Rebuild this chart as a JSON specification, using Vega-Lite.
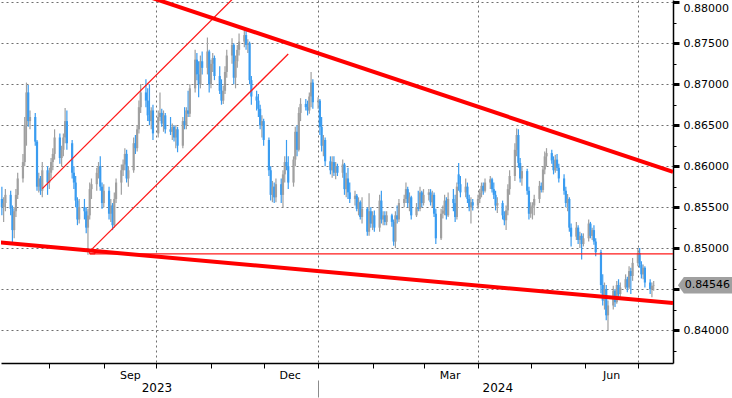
{
"$schema": "https://vega.github.io/schema/vega-lite/v6.json",
"width": 672, "height": 363, "padding": 0, "autosize": {"type": "pad"},
"background": "white",
"config": {"view": {"stroke": null}, "font": "DejaVu Sans"},
"datasets": {
"px": [
{"d":"2023-07-05","o":0.8560,"h":0.8575,"l":0.8540,"c":0.8550},
{"d":"2023-07-06","o":0.8550,"h":0.8562,"l":0.8532,"c":0.8555},
{"d":"2023-07-07","o":0.8555,"h":0.8572,"l":0.8545,"c":0.8565},
{"d":"2023-07-10","o":0.8565,"h":0.8570,"l":0.8540,"c":0.8548},
{"d":"2023-07-11","o":0.8548,"h":0.8552,"l":0.8507,"c":0.8522},
{"d":"2023-07-12","o":0.8522,"h":0.8550,"l":0.8512,"c":0.8545},
{"d":"2023-07-13","o":0.8545,"h":0.8572,"l":0.8538,"c":0.8565},
{"d":"2023-07-14","o":0.8565,"h":0.8592,"l":0.8560,"c":0.8585},
{"d":"2023-07-17","o":0.8585,"h":0.8615,"l":0.8580,"c":0.8605},
{"d":"2023-07-18","o":0.8605,"h":0.8660,"l":0.8600,"c":0.8650},
{"d":"2023-07-19","o":0.8650,"h":0.8702,"l":0.8625,"c":0.8690},
{"d":"2023-07-20","o":0.8690,"h":0.8699,"l":0.8648,"c":0.8655},
{"d":"2023-07-21","o":0.8655,"h":0.8668,"l":0.8645,"c":0.8660},
{"d":"2023-07-24","o":0.8660,"h":0.8665,"l":0.8625,"c":0.8630},
{"d":"2023-07-25","o":0.8630,"h":0.8632,"l":0.8570,"c":0.8575},
{"d":"2023-07-26","o":0.8575,"h":0.8592,"l":0.8568,"c":0.8585},
{"d":"2023-07-27","o":0.8585,"h":0.8588,"l":0.8565,"c":0.8570},
{"d":"2023-07-28","o":0.8570,"h":0.8605,"l":0.8562,"c":0.8595},
{"d":"2023-07-31","o":0.8595,"h":0.8600,"l":0.8565,"c":0.8580},
{"d":"2023-08-01","o":0.8580,"h":0.8598,"l":0.8572,"c":0.8592},
{"d":"2023-08-02","o":0.8592,"h":0.8610,"l":0.8585,"c":0.8605},
{"d":"2023-08-03","o":0.8605,"h":0.8622,"l":0.8595,"c":0.8615},
{"d":"2023-08-04","o":0.8615,"h":0.8645,"l":0.8608,"c":0.8635},
{"d":"2023-08-07","o":0.8635,"h":0.8640,"l":0.8603,"c":0.8610},
{"d":"2023-08-08","o":0.8610,"h":0.8625,"l":0.8600,"c":0.8620},
{"d":"2023-08-09","o":0.8620,"h":0.8640,"l":0.8612,"c":0.8635},
{"d":"2023-08-10","o":0.8635,"h":0.8671,"l":0.8628,"c":0.8655},
{"d":"2023-08-11","o":0.8655,"h":0.8668,"l":0.8620,"c":0.8628},
{"d":"2023-08-14","o":0.8628,"h":0.8632,"l":0.8585,"c":0.8592},
{"d":"2023-08-15","o":0.8592,"h":0.8600,"l":0.8572,"c":0.8580},
{"d":"2023-08-16","o":0.8580,"h":0.8588,"l":0.8550,"c":0.8558},
{"d":"2023-08-17","o":0.8558,"h":0.8562,"l":0.8528,"c":0.8535},
{"d":"2023-08-18","o":0.8535,"h":0.8560,"l":0.8530,"c":0.8550},
{"d":"2023-08-21","o":0.8550,"h":0.8560,"l":0.8535,"c":0.8545},
{"d":"2023-08-22","o":0.8545,"h":0.8550,"l":0.8518,"c":0.8525},
{"d":"2023-08-23","o":0.8525,"h":0.8548,"l":0.8492,"c":0.8540},
{"d":"2023-08-24","o":0.8540,"h":0.8580,"l":0.8535,"c":0.8572},
{"d":"2023-08-25","o":0.8572,"h":0.8585,"l":0.8560,"c":0.8578},
{"d":"2023-08-28","o":0.8578,"h":0.8598,"l":0.8570,"c":0.8592},
{"d":"2023-08-29","o":0.8592,"h":0.8605,"l":0.8585,"c":0.8600},
{"d":"2023-08-30","o":0.8600,"h":0.8612,"l":0.8570,"c":0.8575},
{"d":"2023-08-31","o":0.8575,"h":0.8580,"l":0.8548,"c":0.8555},
{"d":"2023-09-01","o":0.8555,"h":0.8578,"l":0.8550,"c":0.8570},
{"d":"2023-09-04","o":0.8570,"h":0.8575,"l":0.8535,"c":0.8542},
{"d":"2023-09-05","o":0.8542,"h":0.8560,"l":0.8532,"c":0.8552},
{"d":"2023-09-06","o":0.8552,"h":0.8555,"l":0.8522,"c":0.8528},
{"d":"2023-09-07","o":0.8528,"h":0.8568,"l":0.8525,"c":0.8560},
{"d":"2023-09-08","o":0.8560,"h":0.8585,"l":0.8555,"c":0.8580},
{"d":"2023-09-11","o":0.8580,"h":0.8602,"l":0.8565,"c":0.8595},
{"d":"2023-09-12","o":0.8595,"h":0.8608,"l":0.8588,"c":0.8602},
{"d":"2023-09-13","o":0.8602,"h":0.8622,"l":0.8595,"c":0.8615},
{"d":"2023-09-14","o":0.8615,"h":0.8620,"l":0.8580,"c":0.8585},
{"d":"2023-09-15","o":0.8585,"h":0.8600,"l":0.8575,"c":0.8595},
{"d":"2023-09-18","o":0.8595,"h":0.8635,"l":0.8592,"c":0.8628},
{"d":"2023-09-19","o":0.8628,"h":0.8638,"l":0.8615,"c":0.8622},
{"d":"2023-09-20","o":0.8622,"h":0.8650,"l":0.8618,"c":0.8645},
{"d":"2023-09-21","o":0.8645,"h":0.8680,"l":0.8640,"c":0.8672},
{"d":"2023-09-22","o":0.8672,"h":0.8700,"l":0.8665,"c":0.8690},
{"d":"2023-09-25","o":0.8690,"h":0.8706,"l":0.8672,"c":0.8680},
{"d":"2023-09-26","o":0.8680,"h":0.8695,"l":0.8655,"c":0.8662},
{"d":"2023-09-27","o":0.8662,"h":0.8700,"l":0.8650,"c":0.8655},
{"d":"2023-09-28","o":0.8655,"h":0.8672,"l":0.8645,"c":0.8668},
{"d":"2023-09-29","o":0.8668,"h":0.8675,"l":0.8632,"c":0.8640},
{"d":"2023-10-02","o":0.8640,"h":0.8668,"l":0.8635,"c":0.8660},
{"d":"2023-10-03","o":0.8660,"h":0.8690,"l":0.8655,"c":0.8665},
{"d":"2023-10-04","o":0.8665,"h":0.8670,"l":0.8648,"c":0.8652},
{"d":"2023-10-05","o":0.8652,"h":0.8668,"l":0.8642,"c":0.8662},
{"d":"2023-10-06","o":0.8662,"h":0.8665,"l":0.8640,"c":0.8645},
{"d":"2023-10-09","o":0.8645,"h":0.8660,"l":0.8638,"c":0.8642},
{"d":"2023-10-10","o":0.8642,"h":0.8652,"l":0.8632,"c":0.8648},
{"d":"2023-10-11","o":0.8648,"h":0.8650,"l":0.8630,"c":0.8635},
{"d":"2023-10-12","o":0.8635,"h":0.8650,"l":0.8622,"c":0.8645},
{"d":"2023-10-13","o":0.8645,"h":0.8648,"l":0.8617,"c":0.8625},
{"d":"2023-10-16","o":0.8625,"h":0.8660,"l":0.8622,"c":0.8655},
{"d":"2023-10-17","o":0.8655,"h":0.8672,"l":0.8645,"c":0.8650},
{"d":"2023-10-18","o":0.8650,"h":0.8672,"l":0.8645,"c":0.8668},
{"d":"2023-10-19","o":0.8668,"h":0.8692,"l":0.8660,"c":0.8664},
{"d":"2023-10-20","o":0.8664,"h":0.8700,"l":0.8660,"c":0.8695},
{"d":"2023-10-23","o":0.8695,"h":0.8742,"l":0.8690,"c":0.8730},
{"d":"2023-10-24","o":0.8730,"h":0.8738,"l":0.8705,"c":0.8712},
{"d":"2023-10-25","o":0.8712,"h":0.8728,"l":0.8684,"c":0.8700},
{"d":"2023-10-26","o":0.8700,"h":0.8735,"l":0.8695,"c":0.8728},
{"d":"2023-10-27","o":0.8728,"h":0.8740,"l":0.8712,"c":0.8720},
{"d":"2023-10-30","o":0.8720,"h":0.8757,"l":0.8712,"c":0.8740},
{"d":"2023-10-31","o":0.8740,"h":0.8742,"l":0.8690,"c":0.8700},
{"d":"2023-11-01","o":0.8700,"h":0.8730,"l":0.8695,"c":0.8725},
{"d":"2023-11-02","o":0.8725,"h":0.8738,"l":0.8715,"c":0.8732},
{"d":"2023-11-03","o":0.8732,"h":0.8735,"l":0.8705,"c":0.8710},
{"d":"2023-11-06","o":0.8710,"h":0.8722,"l":0.8688,"c":0.8692},
{"d":"2023-11-07","o":0.8692,"h":0.8706,"l":0.8675,"c":0.8680},
{"d":"2023-11-08","o":0.8680,"h":0.8698,"l":0.8676,"c":0.8692},
{"d":"2023-11-09","o":0.8692,"h":0.8722,"l":0.8688,"c":0.8715},
{"d":"2023-11-10","o":0.8715,"h":0.8742,"l":0.8708,"c":0.8735},
{"d":"2023-11-13","o":0.8735,"h":0.8756,"l":0.8725,"c":0.8748},
{"d":"2023-11-14","o":0.8748,"h":0.8750,"l":0.8700,"c":0.8708},
{"d":"2023-11-15","o":0.8708,"h":0.8735,"l":0.8695,"c":0.8728},
{"d":"2023-11-16","o":0.8728,"h":0.8748,"l":0.8720,"c":0.8742},
{"d":"2023-11-17","o":0.8742,"h":0.8762,"l":0.8735,"c":0.8752},
{"d":"2023-11-20","o":0.8752,"h":0.8768,"l":0.8745,"c":0.8760},
{"d":"2023-11-21","o":0.8760,"h":0.8768,"l":0.8742,"c":0.8748},
{"d":"2023-11-22","o":0.8748,"h":0.8755,"l":0.8738,"c":0.8750},
{"d":"2023-11-23","o":0.8750,"h":0.8752,"l":0.8700,"c":0.8705},
{"d":"2023-11-24","o":0.8705,"h":0.8710,"l":0.8675,"c":0.8685},
{"d":"2023-11-27","o":0.8685,"h":0.8692,"l":0.8668,"c":0.8680},
{"d":"2023-11-28","o":0.8680,"h":0.8688,"l":0.8660,"c":0.8670},
{"d":"2023-11-29","o":0.8670,"h":0.8675,"l":0.8645,"c":0.8650},
{"d":"2023-11-30","o":0.8650,"h":0.8662,"l":0.8635,"c":0.8655},
{"d":"2023-12-01","o":0.8655,"h":0.8658,"l":0.8625,"c":0.8632},
{"d":"2023-12-04","o":0.8632,"h":0.8635,"l":0.8588,"c":0.8595},
{"d":"2023-12-05","o":0.8595,"h":0.8600,"l":0.8558,"c":0.8565},
{"d":"2023-12-06","o":0.8565,"h":0.8582,"l":0.8556,"c":0.8575},
{"d":"2023-12-07","o":0.8575,"h":0.8580,"l":0.8555,"c":0.8562},
{"d":"2023-12-08","o":0.8562,"h":0.8585,"l":0.8556,"c":0.8578},
{"d":"2023-12-11","o":0.8578,"h":0.8585,"l":0.8555,"c":0.8565},
{"d":"2023-12-12","o":0.8565,"h":0.8595,"l":0.8550,"c":0.8590},
{"d":"2023-12-13","o":0.8590,"h":0.8612,"l":0.8580,"c":0.8605},
{"d":"2023-12-14","o":0.8605,"h":0.8632,"l":0.8595,"c":0.8600},
{"d":"2023-12-15","o":0.8600,"h":0.8612,"l":0.8572,"c":0.8580},
{"d":"2023-12-18","o":0.8580,"h":0.8612,"l":0.8575,"c":0.8608},
{"d":"2023-12-19","o":0.8608,"h":0.8648,"l":0.8600,"c":0.8642},
{"d":"2023-12-20","o":0.8642,"h":0.8650,"l":0.8612,"c":0.8620},
{"d":"2023-12-21","o":0.8620,"h":0.8672,"l":0.8618,"c":0.8665},
{"d":"2023-12-22","o":0.8665,"h":0.8683,"l":0.8655,"c":0.8676},
{"d":"2023-12-25","o":0.8676,"h":0.8682,"l":0.8668,"c":0.8672},
{"d":"2023-12-26","o":0.8672,"h":0.8680,"l":0.8662,"c":0.8668},
{"d":"2023-12-27","o":0.8668,"h":0.8690,"l":0.8664,"c":0.8685},
{"d":"2023-12-28","o":0.8685,"h":0.8715,"l":0.8672,"c":0.8702},
{"d":"2023-12-29","o":0.8702,"h":0.8706,"l":0.8670,"c":0.8678},
{"d":"2024-01-01","o":0.8678,"h":0.8684,"l":0.8670,"c":0.8680},
{"d":"2024-01-02","o":0.8680,"h":0.8682,"l":0.8638,"c":0.8648},
{"d":"2024-01-03","o":0.8648,"h":0.8660,"l":0.8618,"c":0.8625},
{"d":"2024-01-04","o":0.8625,"h":0.8638,"l":0.8612,"c":0.8632},
{"d":"2024-01-05","o":0.8632,"h":0.8635,"l":0.8600,"c":0.8606},
{"d":"2024-01-08","o":0.8606,"h":0.8612,"l":0.8590,"c":0.8595},
{"d":"2024-01-09","o":0.8595,"h":0.8612,"l":0.8586,"c":0.8605},
{"d":"2024-01-10","o":0.8605,"h":0.8612,"l":0.8588,"c":0.8592},
{"d":"2024-01-11","o":0.8592,"h":0.8605,"l":0.8584,"c":0.8600},
{"d":"2024-01-12","o":0.8600,"h":0.8603,"l":0.8588,"c":0.8592},
{"d":"2024-01-15","o":0.8592,"h":0.8608,"l":0.8586,"c":0.8602},
{"d":"2024-01-16","o":0.8602,"h":0.8604,"l":0.8565,"c":0.8572},
{"d":"2024-01-17","o":0.8572,"h":0.8592,"l":0.8562,"c":0.8585},
{"d":"2024-01-18","o":0.8585,"h":0.8598,"l":0.8560,"c":0.8568},
{"d":"2024-01-19","o":0.8568,"h":0.8580,"l":0.8555,"c":0.8560},
{"d":"2024-01-22","o":0.8560,"h":0.8570,"l":0.8552,"c":0.8564},
{"d":"2024-01-23","o":0.8564,"h":0.8566,"l":0.8545,"c":0.8548},
{"d":"2024-01-24","o":0.8548,"h":0.8562,"l":0.8540,"c":0.8556},
{"d":"2024-01-25","o":0.8556,"h":0.8558,"l":0.8535,"c":0.8538},
{"d":"2024-01-26","o":0.8538,"h":0.8562,"l":0.8530,"c":0.8548},
{"d":"2024-01-29","o":0.8548,"h":0.8550,"l":0.8515,"c":0.8520},
{"d":"2024-01-30","o":0.8520,"h":0.8567,"l":0.8515,"c":0.8545},
{"d":"2024-01-31","o":0.8545,"h":0.8550,"l":0.8525,"c":0.8530},
{"d":"2024-02-01","o":0.8530,"h":0.8545,"l":0.8522,"c":0.8540},
{"d":"2024-02-02","o":0.8540,"h":0.8546,"l":0.8520,"c":0.8525},
{"d":"2024-02-05","o":0.8525,"h":0.8565,"l":0.8520,"c":0.8558},
{"d":"2024-02-06","o":0.8558,"h":0.8570,"l":0.8530,"c":0.8535},
{"d":"2024-02-07","o":0.8535,"h":0.8545,"l":0.8528,"c":0.8540},
{"d":"2024-02-08","o":0.8540,"h":0.8545,"l":0.8528,"c":0.8532},
{"d":"2024-02-09","o":0.8532,"h":0.8545,"l":0.8528,"c":0.8540},
{"d":"2024-02-12","o":0.8540,"h":0.8542,"l":0.8526,"c":0.8532},
{"d":"2024-02-13","o":0.8532,"h":0.8535,"l":0.8503,"c":0.8508},
{"d":"2024-02-14","o":0.8508,"h":0.8545,"l":0.8500,"c":0.8540},
{"d":"2024-02-15","o":0.8540,"h":0.8552,"l":0.8530,"c":0.8535},
{"d":"2024-02-16","o":0.8535,"h":0.8560,"l":0.8532,"c":0.8555},
{"d":"2024-02-19","o":0.8555,"h":0.8565,"l":0.8550,"c":0.8560},
{"d":"2024-02-20","o":0.8560,"h":0.8580,"l":0.8555,"c":0.8572},
{"d":"2024-02-21","o":0.8572,"h":0.8575,"l":0.8550,"c":0.8555},
{"d":"2024-02-22","o":0.8555,"h":0.8568,"l":0.8545,"c":0.8562},
{"d":"2024-02-23","o":0.8562,"h":0.8564,"l":0.8535,"c":0.8540},
{"d":"2024-02-26","o":0.8540,"h":0.8555,"l":0.8538,"c":0.8550},
{"d":"2024-02-27","o":0.8550,"h":0.8570,"l":0.8545,"c":0.8548},
{"d":"2024-02-28","o":0.8548,"h":0.8575,"l":0.8545,"c":0.8568},
{"d":"2024-02-29","o":0.8568,"h":0.8570,"l":0.8550,"c":0.8555},
{"d":"2024-03-01","o":0.8555,"h":0.8572,"l":0.8552,"c":0.8565},
{"d":"2024-03-04","o":0.8565,"h":0.8572,"l":0.8558,"c":0.8568},
{"d":"2024-03-05","o":0.8568,"h":0.8572,"l":0.8552,"c":0.8556},
{"d":"2024-03-06","o":0.8556,"h":0.8570,"l":0.8550,"c":0.8565},
{"d":"2024-03-07","o":0.8565,"h":0.8568,"l":0.8538,"c":0.8542},
{"d":"2024-03-08","o":0.8542,"h":0.8548,"l":0.8505,"c":0.8512},
{"d":"2024-03-11","o":0.8512,"h":0.8548,"l":0.8510,"c":0.8542},
{"d":"2024-03-12","o":0.8542,"h":0.8552,"l":0.8536,"c":0.8546},
{"d":"2024-03-13","o":0.8546,"h":0.8565,"l":0.8540,"c":0.8558},
{"d":"2024-03-14","o":0.8558,"h":0.8562,"l":0.8535,"c":0.8540},
{"d":"2024-03-15","o":0.8540,"h":0.8568,"l":0.8538,"c":0.8560},
{"d":"2024-03-18","o":0.8560,"h":0.8572,"l":0.8545,"c":0.8555},
{"d":"2024-03-19","o":0.8555,"h":0.8565,"l":0.8532,"c":0.8538},
{"d":"2024-03-20","o":0.8538,"h":0.8580,"l":0.8535,"c":0.8575},
{"d":"2024-03-21","o":0.8590,"h":0.8604,"l":0.8570,"c":0.8578},
{"d":"2024-03-22","o":0.8578,"h":0.8588,"l":0.8562,"c":0.8568},
{"d":"2024-03-25","o":0.8568,"h":0.8585,"l":0.8562,"c":0.8575},
{"d":"2024-03-26","o":0.8575,"h":0.8580,"l":0.8555,"c":0.8560},
{"d":"2024-03-27","o":0.8560,"h":0.8565,"l":0.8545,"c":0.8550},
{"d":"2024-03-28","o":0.8550,"h":0.8562,"l":0.8530,"c":0.8556},
{"d":"2024-03-29","o":0.8556,"h":0.8560,"l":0.8546,"c":0.8552},
{"d":"2024-04-01","o":0.8552,"h":0.8565,"l":0.8548,"c":0.8560},
{"d":"2024-04-02","o":0.8560,"h":0.8572,"l":0.8555,"c":0.8568},
{"d":"2024-04-03","o":0.8568,"h":0.8580,"l":0.8562,"c":0.8576},
{"d":"2024-04-04","o":0.8576,"h":0.8580,"l":0.8565,"c":0.8570},
{"d":"2024-04-05","o":0.8570,"h":0.8585,"l":0.8568,"c":0.8580},
{"d":"2024-04-08","o":0.8580,"h":0.8588,"l":0.8572,"c":0.8584},
{"d":"2024-04-09","o":0.8584,"h":0.8586,"l":0.8568,"c":0.8572},
{"d":"2024-04-10","o":0.8572,"h":0.8580,"l":0.8560,"c":0.8565},
{"d":"2024-04-11","o":0.8565,"h":0.8570,"l":0.8546,"c":0.8552},
{"d":"2024-04-12","o":0.8552,"h":0.8562,"l":0.8543,"c":0.8555},
{"d":"2024-04-15","o":0.8555,"h":0.8558,"l":0.8535,"c":0.8540},
{"d":"2024-04-16","o":0.8540,"h":0.8545,"l":0.8528,"c":0.8534},
{"d":"2024-04-17","o":0.8534,"h":0.8552,"l":0.8522,"c":0.8546},
{"d":"2024-04-18","o":0.8546,"h":0.8578,"l":0.8540,"c":0.8572},
{"d":"2024-04-19","o":0.8572,"h":0.8595,"l":0.8565,"c":0.8588},
{"d":"2024-04-22","o":0.8588,"h":0.8628,"l":0.8582,"c":0.8620},
{"d":"2024-04-23","o":0.8620,"h":0.8646,"l":0.8612,"c":0.8638},
{"d":"2024-04-24","o":0.8638,"h":0.8645,"l":0.8598,"c":0.8604},
{"d":"2024-04-25","o":0.8604,"h":0.8610,"l":0.8580,"c":0.8585},
{"d":"2024-04-26","o":0.8585,"h":0.8600,"l":0.8576,"c":0.8594},
{"d":"2024-04-29","o":0.8594,"h":0.8597,"l":0.8565,"c":0.8570},
{"d":"2024-04-30","o":0.8570,"h":0.8575,"l":0.8535,"c":0.8542},
{"d":"2024-05-01","o":0.8542,"h":0.8556,"l":0.8537,"c":0.8550},
{"d":"2024-05-02","o":0.8550,"h":0.8556,"l":0.8535,"c":0.8552},
{"d":"2024-05-03","o":0.8552,"h":0.8565,"l":0.8540,"c":0.8560},
{"d":"2024-05-06","o":0.8560,"h":0.8582,"l":0.8555,"c":0.8576},
{"d":"2024-05-07","o":0.8576,"h":0.8580,"l":0.8568,"c":0.8571},
{"d":"2024-05-08","o":0.8571,"h":0.8600,"l":0.8568,"c":0.8596},
{"d":"2024-05-09","o":0.8596,"h":0.8618,"l":0.8590,"c":0.8612},
{"d":"2024-05-10","o":0.8612,"h":0.8622,"l":0.8600,"c":0.8616},
{"d":"2024-05-13","o":0.8616,"h":0.8620,"l":0.8603,"c":0.8607},
{"d":"2024-05-14","o":0.8607,"h":0.8612,"l":0.8590,"c":0.8595},
{"d":"2024-05-15","o":0.8595,"h":0.8614,"l":0.8592,"c":0.8608},
{"d":"2024-05-16","o":0.8608,"h":0.8615,"l":0.8594,"c":0.8598},
{"d":"2024-05-17","o":0.8598,"h":0.8603,"l":0.8580,"c":0.8585},
{"d":"2024-05-20","o":0.8585,"h":0.8590,"l":0.8565,"c":0.8570},
{"d":"2024-05-21","o":0.8570,"h":0.8575,"l":0.8550,"c":0.8555},
{"d":"2024-05-22","o":0.8555,"h":0.8566,"l":0.8545,"c":0.8560},
{"d":"2024-05-23","o":0.8560,"h":0.8562,"l":0.8520,"c":0.8525},
{"d":"2024-05-24","o":0.8525,"h":0.8530,"l":0.8502,"c":0.8514},
{"d":"2024-05-27","o":0.8514,"h":0.8532,"l":0.8510,"c":0.8525},
{"d":"2024-05-28","o":0.8525,"h":0.8528,"l":0.8505,"c":0.8510},
{"d":"2024-05-29","o":0.8510,"h":0.8520,"l":0.8500,"c":0.8515},
{"d":"2024-05-30","o":0.8515,"h":0.8518,"l":0.8486,"c":0.8505},
{"d":"2024-05-31","o":0.8505,"h":0.8518,"l":0.8502,"c":0.8512},
{"d":"2024-06-03","o":0.8512,"h":0.8535,"l":0.8508,"c":0.8530},
{"d":"2024-06-04","o":0.8530,"h":0.8532,"l":0.8512,"c":0.8515},
{"d":"2024-06-05","o":0.8515,"h":0.8525,"l":0.8510,"c":0.8522},
{"d":"2024-06-06","o":0.8522,"h":0.8528,"l":0.8504,"c":0.8508},
{"d":"2024-06-07","o":0.8508,"h":0.8512,"l":0.8490,"c":0.8495},
{"d":"2024-06-10","o":0.8495,"h":0.8498,"l":0.8445,"c":0.8455},
{"d":"2024-06-11","o":0.8455,"h":0.8468,"l":0.8430,"c":0.8436},
{"d":"2024-06-12","o":0.8436,"h":0.8458,"l":0.8425,"c":0.8450},
{"d":"2024-06-13","o":0.8450,"h":0.8455,"l":0.8412,"c":0.8418},
{"d":"2024-06-14","o":0.8418,"h":0.8436,"l":0.8400,"c":0.8430},
{"d":"2024-06-17","o":0.8430,"h":0.8454,"l":0.8425,"c":0.8448},
{"d":"2024-06-18","o":0.8448,"h":0.8450,"l":0.8428,"c":0.8434},
{"d":"2024-06-19","o":0.8434,"h":0.8460,"l":0.8432,"c":0.8455},
{"d":"2024-06-20","o":0.8455,"h":0.8462,"l":0.8440,"c":0.8444},
{"d":"2024-06-21","o":0.8444,"h":0.8458,"l":0.8440,"c":0.8452},
{"d":"2024-06-24","o":0.8452,"h":0.8468,"l":0.8450,"c":0.8462},
{"d":"2024-06-25","o":0.8462,"h":0.8465,"l":0.8446,"c":0.8452},
{"d":"2024-06-26","o":0.8452,"h":0.8478,"l":0.8450,"c":0.8472},
{"d":"2024-06-27","o":0.8472,"h":0.8476,"l":0.8444,"c":0.8466},
{"d":"2024-06-28","o":0.8466,"h":0.8488,"l":0.8460,"c":0.8482},
{"d":"2024-07-01","o":0.8482,"h":0.8499,"l":0.8478,"c":0.8494},
{"d":"2024-07-02","o":0.8494,"h":0.8500,"l":0.8476,"c":0.8480},
{"d":"2024-07-03","o":0.8480,"h":0.8484,"l":0.8463,"c":0.8468},
{"d":"2024-07-04","o":0.8468,"h":0.8480,"l":0.8462,"c":0.8476},
{"d":"2024-07-05","o":0.8476,"h":0.8478,"l":0.8452,"c":0.8458},
{"d":"2024-07-08","o":0.8458,"h":0.8462,"l":0.8444,"c":0.8450},
{"d":"2024-07-09","o":0.8450,"h":0.8458,"l":0.8440,"c":0.8454},
{"d":"2024-07-10","o":0.8454,"h":0.8460,"l":0.8448,"c":0.84546}
],
"thick": [
{"id":"upper","d":"2023-09-20","v":0.88114},
{"id":"upper","d":"2024-07-21","v":0.85930},
{"id":"lower","d":"2023-07-04","v":0.85069},
{"id":"lower","d":"2024-07-21","v":0.84329}
],
"thin": [
{"id":"chanTop","d":"2023-07-28","v":0.85726},
{"id":"chanTop","d":"2023-11-15","v":0.88076},
{"id":"chanBot","d":"2023-08-25","v":0.84982},
{"id":"chanBot","d":"2023-12-15","v":0.87370},
{"id":"level","d":"2023-08-24","v":0.8493},
{"id":"level","d":"2024-07-21","v":0.8493}
],
"box": [
{"d":"2023-08-24","d2":"2023-08-27","v":0.8493,"v2":0.8498}
],
"last": [
{"d":"2024-08-09","v":0.84546,"label":"0.84546"}
]
},
"resolve": {"axis": {"x": "independent", "y": "independent"}},
"layer": [
{
"data": {"name": "px"},
"mark": {"type": "rule", "strokeWidth": 1.2},
"encoding": {
"x": {"field": "d", "type": "temporal",
"scale": {"type": "utc", "nice": false, "domain": [{"year":2023,"month":7,"date":4,"hours":12,"utc":true},{"year":2024,"month":7,"date":21,"utc":true}]},
"axis": {"orient": "bottom", "title": null,
"values": [{"year":2023,"month":8,"date":1,"utc":true},{"year":2023,"month":9,"date":1,"utc":true},{"year":2023,"month":10,"date":1,"utc":true},{"year":2023,"month":11,"date":1,"utc":true},{"year":2023,"month":12,"date":1,"utc":true},{"year":2024,"month":1,"date":1,"utc":true},{"year":2024,"month":2,"date":1,"utc":true},{"year":2024,"month":3,"date":1,"utc":true},{"year":2024,"month":4,"date":1,"utc":true},{"year":2024,"month":5,"date":1,"utc":true},{"year":2024,"month":6,"date":1,"utc":true},{"year":2024,"month":7,"date":1,"utc":true}],
"labelExpr": "indexof([8,11,2,5], utcmonth(datum.value)) >= 0 ? utcFormat(datum.value, '%b') : ''",
"labelOffset": 26, "tickSize": 5, "tickColor": "#000000", "domainColor": "#000000", "domainWidth": 1.5,
"labelColor": "#000000", "labelFontSize": 11, "labelFont": "DejaVu Sans", "labelPadding": 1,
"labelFlush": false, "labelOverlap": false, "labelBound": false,
"grid": true, "gridColor": "#6e6e6e", "gridDash": [2, 3],
"gridOpacity": {"condition": {"test": "utcmonth(datum.value) % 3 == 0", "value": 1}, "value": 0}}},
"y": {"field": "l", "type": "quantitative",
"scale": {"domain": [0.83598, 0.88028], "nice": false, "zero": false},
"axis": {"orient": "right", "title": null,
"values": [0.84, 0.845, 0.85, 0.855, 0.86, 0.865, 0.87, 0.875, 0.88],
"format": ".5f",
"labelExpr": "abs(datum.value - 0.845) < 0.0001 ? '' : datum.label",
"tickSize": 6, "tickWidth": 3, "tickColor": "#000000",
"domainColor": "#000000", "domainWidth": 1.5,
"labelColor": "#000000", "labelFontSize": 11, "labelFont": "DejaVu Sans", "labelPadding": 4,
"labelFlush": 3, "labelOverlap": false, "labelBound": false,
"grid": true, "gridColor": "#6e6e6e", "gridDash": [2, 3]}},
"y2": {"field": "h"},
"color": {"condition": {"test": "datum.c < datum.o", "value": "#3a9cf0"}, "value": "#a0a0a0"}
}
},
{
"data": {"name": "px"},
"mark": {"type": "rule", "strokeWidth": 2.2},
"encoding": {
"x": {"field": "d", "type": "temporal",
"axis": {"orient": "bottom", "title": null, "offset": 17,
"values": [{"year":2023,"month":10,"date":1,"utc":true},{"year":2024,"month":1,"date":1,"utc":true},{"year":2024,"month":4,"date":12,"utc":true}],
"labelExpr": "utcmonth(datum.value) == 0 ? '' : utcFormat(datum.value, '%Y')",
"domain": false, "grid": false, "tickSize": 17,
"tickColor": {"condition": {"test": "utcmonth(datum.value) == 0", "value": "#8c8c8c"}, "value": "transparent"},
"labelColor": "#000000", "labelFontSize": 12, "labelFont": "DejaVu Sans",
"labelPadding": -10, "labelBaseline": "middle",
"labelFlush": false, "labelOverlap": false, "labelBound": false}},
"y": {"field": "o", "type": "quantitative",
"axis": {"orient": "right", "title": null,
"values": [0.8375, 0.8425, 0.8475, 0.8525, 0.8575, 0.8625, 0.8675, 0.8725, 0.8775],
"labels": false, "domain": false, "grid": false,
"tickSize": 3, "tickWidth": 1, "tickColor": "#000000"}},
"y2": {"field": "c"},
"color": {"condition": {"test": "datum.c < datum.o", "value": "#3a9cf0"}, "value": "#a0a0a0"}
}
},
{
"data": {"name": "thin"},
"mark": {"type": "line", "clip": true, "color": "#ff1a1a", "strokeWidth": 1.3},
"encoding": {
"x": {"field": "d", "type": "temporal", "axis": null},
"y": {"field": "v", "type": "quantitative", "axis": null},
"detail": {"field": "id"}
}
},
{
"data": {"name": "box"},
"mark": {"type": "rect", "filled": false, "stroke": "#ff0000", "strokeWidth": 1},
"encoding": {
"x": {"field": "d", "type": "temporal", "axis": null},
"x2": {"field": "d2"},
"y": {"field": "v", "type": "quantitative", "axis": null},
"y2": {"field": "v2"}
}
},
{
"data": {"name": "thick"},
"mark": {"type": "line", "clip": true, "color": "#ff0000", "strokeWidth": 4},
"encoding": {
"x": {"field": "d", "type": "temporal", "axis": null},
"y": {"field": "v", "type": "quantitative", "axis": null},
"detail": {"field": "id"}
}
},
{
"data": {"name": "last"},
"mark": {"type": "point", "shape": "M -1 0 L -0.79 -0.29 L 1 -0.29 L 1 0.29 L -0.79 0.29 Z", "size": 3249, "filled": true, "color": "#a0a0a0", "opacity": 1, "strokeWidth": 0},
"encoding": {
"x": {"field": "d", "type": "temporal", "axis": null},
"y": {"field": "v", "type": "quantitative", "axis": null}
}
},
{
"data": {"name": "last"},
"mark": {"type": "text", "font": "DejaVu Sans", "fontSize": 11, "color": "#000000", "align": "center", "baseline": "middle", "dx": 1},
"encoding": {
"x": {"field": "d", "type": "temporal", "axis": null},
"y": {"field": "v", "type": "quantitative", "axis": null},
"text": {"field": "label"}
}
}
]
}
